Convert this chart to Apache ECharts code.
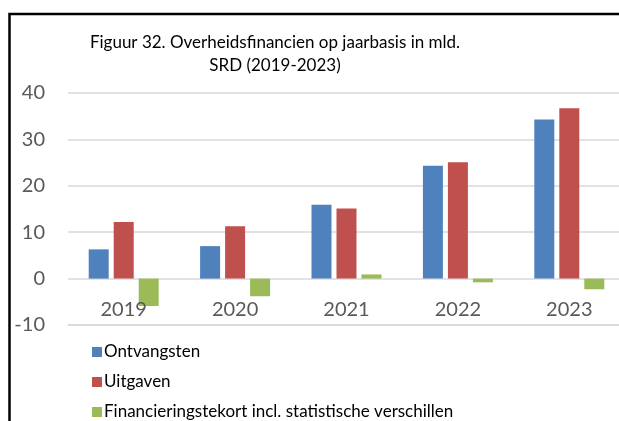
<!DOCTYPE html>
<html>
<head>
<meta charset="utf-8">
<script src="https://cdn.jsdelivr.net/npm/echarts@6/dist/echarts.min.js"></script>
<style>
html, body { margin: 0; padding: 0; background: #fff; }
#chart { width: 619px; height: 421px; }
</style>
</head>
<body>
<div id="chart"></div>
<script>
// jaren en waarden (mld. SRD)
var years = ['2019', '2020', '2021', '2022', '2023'];
var ontvangsten = [6.3, 7.0, 15.9, 24.3, 34.3];
var uitgaven = [12.2, 11.3, 15.1, 25.1, 36.7];
var tekort = [-5.9, -3.8, 0.9, -0.8, -2.3];
var seriesNames = ['Ontvangsten', 'Uitgaven', 'Financieringstekort incl. statistische verschillen'];

var font = 'Lato';
var chart = echarts.init(document.getElementById('chart'));

var option = {
	animation: false,
	color: ['#4F81BD', '#C0504D', '#9BBB59'],
	title: {
		text: 'Figuur 32. Overheidsfinancien op jaarbasis in mld.\nSRD (2019-2023)',
		left: 275,
		top: 31,
		textAlign: 'center',
		padding: 0,
		textStyle: {
			fontFamily: font,
			fontSize: 17,
			fontWeight: 'normal',
			color: '#000',
			lineHeight: 23
		}
	},
	legend: {
		orient: 'vertical',
		left: 92,
		top: 343,
		height: 120,
		padding: 0,
		itemWidth: 10,
		itemHeight: 10,
		itemGap: 12,
		icon: 'rect',
		textStyle: { fontFamily: font, fontSize: 17, lineHeight: 18, color: '#000', padding: [0, 0, 0, -3] },
		data: seriesNames
	},
	grid: {
		left: 68,
		top: 93,
		width: 557,
		height: 232,
		containLabel: false,
		outerBoundsMode: 'none'
	},
	xAxis: {
		type: 'category',
		data: years,
		z: 5,
		axisTick: { show: false },
		axisLine: { onZero: false, lineStyle: { color: '#d9d9d9', width: 1.5 } },
		axisLabel: { fontFamily: font, fontSize: 20, color: '#595959', margin: -25 }
	},
	yAxis: {
		type: 'value',
		min: -10,
		max: 40,
		interval: 10,
		axisLine: { show: false },
		axisTick: { show: false },
		splitLine: { lineStyle: { color: '#d9d9d9', width: 1.5 } },
		axisLabel: { fontFamily: font, fontSize: 20, color: '#595959', margin: 23 }
	},
	series: [
		{ name: seriesNames[0], type: 'bar', data: ontvangsten, barWidth: 20, barGap: '25%' },
		{ name: seriesNames[1], type: 'bar', data: uitgaven, barWidth: 20, barGap: '25%' },
		{ name: seriesNames[2], type: 'bar', data: tekort, barWidth: 20, barGap: '25%' }
	],
	graphic: [{
		type: 'rect',
		shape: { x: 9.5, y: 14, width: 700, height: 500 },
		style: { fill: null, stroke: '#000', lineWidth: 2.5 },
		silent: true
	}]
};

chart.setOption(option);
</script>
</body>
</html>
